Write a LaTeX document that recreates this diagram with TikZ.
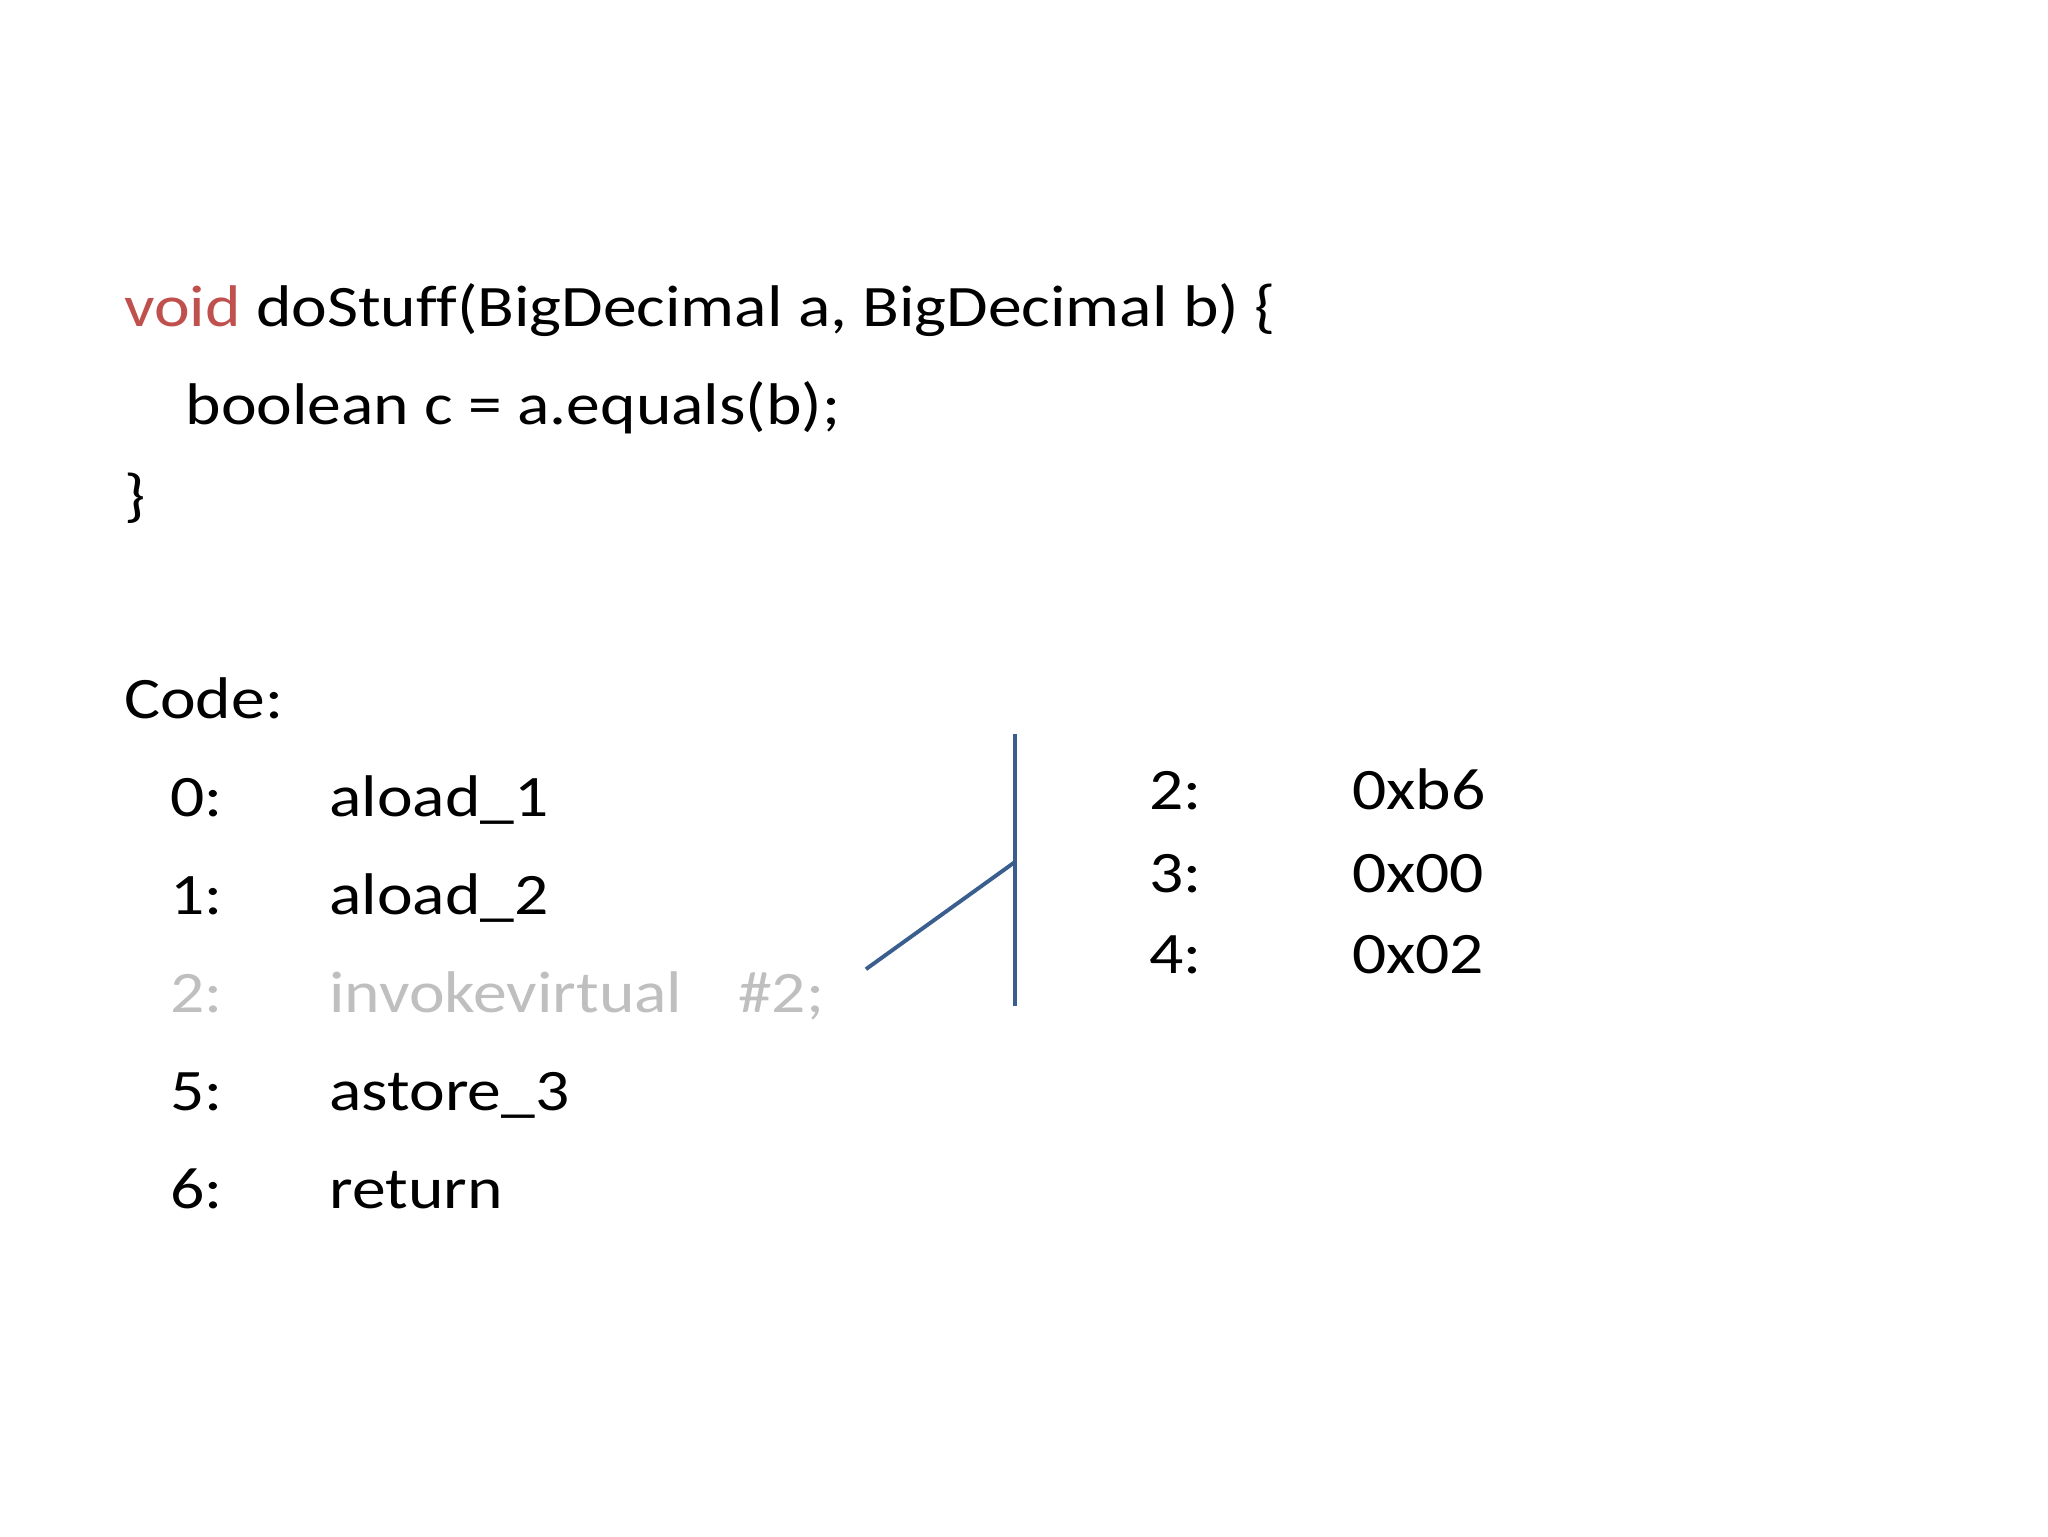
\documentclass[tikz,border=0pt]{standalone}
\usepackage{fontspec}
\setmainfont{Carlito}[FakeStretch=1.15,Ligatures=NoCommon]
\definecolor{kw}{HTML}{C0504D}
\definecolor{gr}{HTML}{BFBFBF}
\definecolor{ln}{HTML}{3A5F8F}
\begin{document}
\begin{tikzpicture}[x=1pt,y=-1pt,t/.style={anchor=base west,inner sep=0pt,font=\fontsize{45}{50}\selectfont}]
\useasboundingbox[fill=white] (0,0) rectangle (1568,1176);
\node[t] (l1) at (95,250) {\textcolor{kw}{void} doStuff(BigDecimal a, BigDecimal b) \{};
\node[t] (l2) at (142,325) {boolean c = a.equals(b);};
\node[t] (l3) at (95,395) {\}};
\node[t] (code) at (95,550) {Code:};
\node[t] (n0) at (130,625) {0:}; \node[t] (m0) at (252,625) {aload\_1};
\node[t] (n1) at (130,700) {1:}; \node[t] (m1) at (252,700) {aload\_2};
\node[t,text=gr] (n2) at (130,775) {2:}; \node[t,text=gr] (m2) at (252,775) {invokevirtual};
\node[t,text=gr] (h2) at (565,775) {\#2;};
\node[t] (n5) at (130,850) {5:}; \node[t] (m5) at (252,850) {astore\_3};
\node[t] (n6) at (130,925) {6:}; \node[t] (m6) at (252,925) {return};
\node[t] (r2) at (880,620) {2:}; \node[t] (x2) at (1035,620) {0xb6};
\node[t] (r3) at (880,683) {3:}; \node[t] (x3) at (1035,683) {0x00};
\node[t] (r4) at (880,745) {4:}; \node[t] (x4) at (1035,745) {0x02};
\coordinate (vt) at (777,562); \coordinate (vb) at (777,770);
\coordinate (vm) at (777,660); \coordinate (d) at (663,742);
\draw[ln,line width=3pt] (vt) -- (vb);
\draw[ln,line width=3pt] (d) -- (vm);
\end{tikzpicture}
\end{document}
